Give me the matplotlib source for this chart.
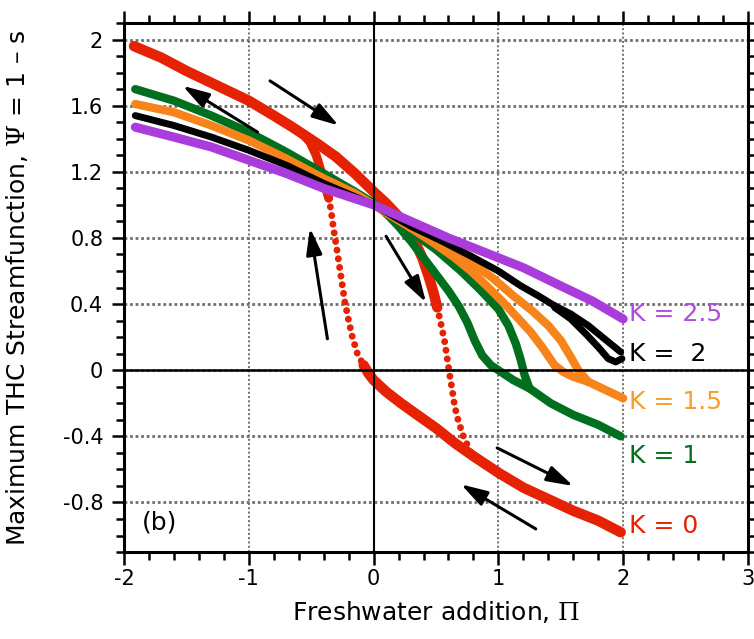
"""
Histéresis de la circulación termohalina (modelo de dos cajas) para varios K.
Panel (b): Ψ máximo frente al aporte de agua dulce Π.
"""

import matplotlib
matplotlib.use("Agg")
import matplotlib.pyplot as plt
from matplotlib.ticker import MultipleLocator, FuncFormatter

plt.rcParams["axes.unicode_minus"] = False
plt.rcParams["mathtext.fontset"] = "dejavuserif"

# ------------------------------------------------------------------
# Datos (Π, Ψ) por rama
# ------------------------------------------------------------------
# K = 0: rama superior + caída hacia delante, rama inferior + salto hacia atrás
k0_upper_x = [-1.92, -1.7, -1.5, -1.25, -1.0, -0.8, -0.65, -0.57, -0.45, -0.3, -0.15,
              0.0, 0.1, 0.2, 0.27, 0.33, 0.39, 0.44, 0.48, 0.51]
k0_upper_y = [1.96, 1.89, 1.81, 1.72, 1.63, 1.54, 1.47, 1.43, 1.37, 1.29, 1.19,
              1.08, 1.01, 0.93, 0.86, 0.78, 0.68, 0.57, 0.47, 0.38]
k0_drop_x = [0.51, 0.54, 0.57, 0.59, 0.61, 0.63, 0.65, 0.68, 0.72, 0.78]
k0_drop_y = [0.38, 0.28, 0.17, 0.07, -0.03, -0.12, -0.22, -0.31, -0.40, -0.50]
k0_lower_x = [-0.08, -0.04, 0.0, 0.1, 0.22, 0.35, 0.5, 0.65, 0.8, 1.0, 1.2, 1.4, 1.6, 1.8, 1.98]
k0_lower_y = [0.03, -0.02, -0.06, -0.13, -0.20, -0.27, -0.35, -0.44, -0.52, -0.62, -0.71,
              -0.78, -0.85, -0.91, -0.98]
k0_jump_x = [-0.36, -0.34, -0.32, -0.29, -0.26, -0.23, -0.20, -0.17, -0.13, -0.08]
k0_jump_y = [1.04, 0.96, 0.85, 0.71, 0.56, 0.41, 0.30, 0.20, 0.10, 0.03]
k0_back_x = [-0.36, -0.39, -0.42, -0.46, -0.51, -0.57]
k0_back_y = [1.04, 1.12, 1.20, 1.30, 1.38, 1.43]

# K = 1
k1_left_x = [-1.91, -1.6, -1.3, -1.0, -0.7, -0.4, -0.15, 0.0, 0.1]
k1_left_y = [1.70, 1.63, 1.54, 1.44, 1.32, 1.19, 1.08, 1.01, 0.95]
k1_fwd_x = [0.1, 0.3, 0.5, 0.7, 0.85, 1.0, 1.08, 1.14, 1.18, 1.21, 1.25]
k1_fwd_y = [0.95, 0.84, 0.73, 0.60, 0.49, 0.37, 0.27, 0.16, 0.06, -0.03, -0.11]
k1_back_x = [0.1, 0.2, 0.3, 0.4, 0.5, 0.6, 0.68, 0.75, 0.81, 0.87, 0.94, 1.02, 1.12, 1.25]
k1_back_y = [0.95, 0.87, 0.78, 0.68, 0.58, 0.48, 0.39, 0.29, 0.18, 0.09, 0.03, -0.01, -0.06, -0.11]
k1_tail_x = [1.25, 1.42, 1.6, 1.8, 1.98]
k1_tail_y = [-0.11, -0.20, -0.27, -0.33, -0.40]

# K = 1.5
k15_left_x = [-1.91, -1.6, -1.3, -1.0, -0.7, -0.4, -0.15, 0.0, 0.15, 0.3]
k15_left_y = [1.61, 1.56, 1.48, 1.39, 1.28, 1.16, 1.07, 1.0, 0.93, 0.86]
k15_fwd_x = [0.3, 0.5, 0.78, 0.95, 1.12, 1.27, 1.40, 1.50, 1.58, 1.64, 1.72]
k15_fwd_y = [0.86, 0.78, 0.65, 0.56, 0.45, 0.36, 0.27, 0.18, 0.08, 0.0, -0.07]
k15_back_x = [0.3, 0.5, 0.65, 0.78, 0.92, 1.04, 1.15, 1.26, 1.36, 1.45, 1.52, 1.6, 1.72]
k15_back_y = [0.86, 0.76, 0.68, 0.60, 0.50, 0.41, 0.32, 0.23, 0.13, 0.03, -0.01, -0.04, -0.07]
k15_tail_x = [1.72, 1.86, 2.0]
k15_tail_y = [-0.07, -0.12, -0.17]

# K = 2
k2_left_x = [-1.91, -1.6, -1.3, -1.0, -0.7, -0.4, -0.15, 0.0, 0.3, 0.55, 0.78, 1.0, 1.18, 1.32, 1.45]
k2_left_y = [1.54, 1.48, 1.41, 1.33, 1.24, 1.13, 1.05, 1.0, 0.87, 0.78, 0.69, 0.60, 0.51, 0.45, 0.39]
k2_fwd_x = [1.45, 1.58, 1.72, 1.85, 1.98]
k2_fwd_y = [0.39, 0.34, 0.27, 0.19, 0.11]
k2_back_x = [1.45, 1.58, 1.70, 1.80, 1.88, 1.94, 1.99]
k2_back_y = [0.38, 0.31, 0.22, 0.14, 0.07, 0.05, 0.07]

# K = 2.5
k25_x = [-1.91, -1.6, -1.3, -1.0, -0.7, -0.4, 0.0, 0.3, 0.6, 0.9, 1.2, 1.5, 1.75, 2.0]
k25_y = [1.47, 1.41, 1.35, 1.27, 1.19, 1.10, 1.0, 0.90, 0.80, 0.71, 0.62, 0.51, 0.42, 0.31]

# Flechas (cola -> punta) que indican el sentido del barrido
arrow_tails = [(-0.93, 1.44), (-0.83, 1.75), (0.10, 0.81), (-0.37, 0.19), (0.99, -0.47), (1.30, -0.96)]
arrow_tips = [(-1.53, 1.72), (-0.28, 1.48), (0.42, 0.41), (-0.51, 0.86), (1.60, -0.70), (0.70, -0.69)]

k_labels = ["K = 0", "K = 1", "K = 1.5", "K =  2", "K = 2.5"]
k_label_y = [-0.94, -0.52, -0.19, 0.10, 0.34]

RED = "#E62205"
GREEN = "#00701F"
ORANGE = "#F7841A"
BLACK = "#000000"
PURPLE = "#A93CDA"
label_colors = [RED, GREEN, "#F89C2C", BLACK, "#B04CE0"]

# ------------------------------------------------------------------
# Figura
# ------------------------------------------------------------------
fig = plt.figure(figsize=(7.54, 6.39), dpi=100)
ax = fig.add_axes([0.1645, 0.136, 0.8275, 0.828])

solid = dict(solid_capstyle="round", solid_joinstyle="round", zorder=3)
dotted = dict(linestyle=(0, (0.01, 1.25)), dash_capstyle="round", zorder=3)

# K = 0
ax.plot(k0_upper_x, k0_upper_y, color=RED, lw=7.5, **solid)
ax.plot(k0_back_x, k0_back_y, color=RED, lw=6.5, **solid)
ax.plot(k0_lower_x, k0_lower_y, color=RED, lw=7.5, **solid)
ax.plot(k0_drop_x, k0_drop_y, color=RED, lw=5, **dotted)
ax.plot(k0_jump_x, k0_jump_y, color=RED, lw=5, **dotted)

# K = 1
for xs, ys in [(k1_left_x, k1_left_y), (k1_fwd_x, k1_fwd_y),
               (k1_back_x, k1_back_y), (k1_tail_x, k1_tail_y)]:
    ax.plot(xs, ys, color=GREEN, lw=6, **solid)

# K = 1.5
for xs, ys in [(k15_left_x, k15_left_y), (k15_fwd_x, k15_fwd_y),
               (k15_back_x, k15_back_y), (k15_tail_x, k15_tail_y)]:
    ax.plot(xs, ys, color=ORANGE, lw=6, **solid)

# K = 2
for xs, ys in [(k2_left_x, k2_left_y), (k2_fwd_x, k2_fwd_y), (k2_back_x, k2_back_y)]:
    ax.plot(xs, ys, color=BLACK, lw=5, **solid)

# K = 2.5
ax.plot(k25_x, k25_y, color=PURPLE, lw=6.5, **solid)

for tail, tip in zip(arrow_tails, arrow_tips):
    ax.annotate("", xy=tip, xytext=tail,
                arrowprops=dict(arrowstyle="-|>,head_length=0.8,head_width=0.24",
                                mutation_scale=20, color="black", lw=2.2,
                                shrinkA=0, shrinkB=0),
                zorder=6)

for text, y, c in zip(k_labels, k_label_y, label_colors):
    ax.text(2.05, y, text, color=c, fontsize=18, ha="left", va="center", zorder=6)

ax.text(-1.86, -0.92, "(b)", fontsize=18, ha="left", va="center")

# Ejes cero
ax.axhline(0, color="black", lw=1.8, zorder=5)
ax.axvline(0, color="black", lw=1.5, zorder=5)

ax.set_xlim(-2, 3)
ax.set_ylim(-1.1, 2.1)
ax.xaxis.set_major_locator(MultipleLocator(1))
ax.xaxis.set_minor_locator(MultipleLocator(0.2))
ax.yaxis.set_major_locator(MultipleLocator(0.4))
ax.yaxis.set_minor_locator(MultipleLocator(0.1))
ax.yaxis.set_major_formatter(FuncFormatter(lambda v, p: f"{v:g}" if abs(v) > 1e-9 else "0"))
ax.xaxis.set_major_formatter(FuncFormatter(lambda v, p: f"{v:g}" if abs(v) > 1e-9 else "0"))

ax.xaxis.grid(True, which="major", linestyle=(0, (1, 1.2)), color="#6f6f6f", lw=1.4, zorder=0)
ax.yaxis.grid(True, which="major", linestyle=(0, (1, 1)), color="#6f6f6f", lw=2.0, zorder=0)
ax.set_axisbelow(True)

ax.tick_params(which="both", direction="out", top=True, right=True, width=1.8,
               labelsize=15, colors="black")
ax.tick_params(which="major", length=9)
ax.tick_params(which="minor", length=6)
ax.tick_params(axis="y", pad=6)
ax.tick_params(axis="x", pad=3)
for sp in ax.spines.values():
    sp.set_linewidth(2.2)

ax.set_xlabel(r"Freshwater addition, $\Pi$", fontsize=18)
ax.set_ylabel(r"Maximum THC Streamfunction, $\Psi$ = 1 – s", fontsize=18)
ax.xaxis.set_label_coords(0.5, -0.088)
ax.yaxis.set_label_coords(-0.15, 0.5)

fig.savefig("out.png", dpi=100)
